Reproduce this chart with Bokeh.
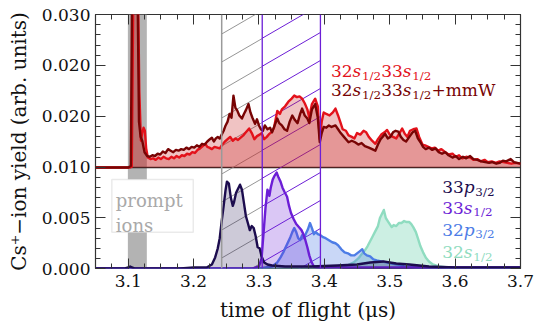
import numpy as np
from bokeh.plotting import figure
from bokeh.models import (Range1d, LinearAxis, FixedTicker, Span, BoxAnnotation, Label,
                          CustomLabelingPolicy)
from bokeh.embed import file_html
from bokeh.resources import INLINE

FONT = "DejaVu Serif"

# ---------------- data ----------------
X_RANGE = (3.05, 3.70)
X_TICKS = [3.1, 3.2, 3.3, 3.4, 3.5, 3.6, 3.7]
X_TICK_LABELS = ["3.1", "3.2", "3.3", "3.4", "3.5", "3.6", "3.7"]
Y_BOT_TICKS = [0.000, 0.005, 0.010]
Y_BOT_LABELS = ["0.000", "0.005", "0.010"]
Y_TOP_TICKS = [0.0166667, 0.0233333, 0.030]
Y_TOP_LABELS = ["0.020", "0.020", "0.030"]

# upper panel: 32s1/2 33s1/2 (red)
red_x = [3.050, 3.1030, 3.1055, 3.1085, 3.1140, 3.1170, 3.1195, 3.1215, 3.1235, 3.1255, 3.1275,
         3.1300, 3.1340, 3.1380, 3.1420, 3.1460, 3.1500, 3.1540, 3.1580, 3.1620, 3.1660, 3.1700,
         3.1740, 3.1780, 3.1820, 3.1860, 3.1900, 3.1940, 3.1980, 3.2020, 3.2060, 3.2100, 3.2140,
         3.2180, 3.2210, 3.2240, 3.2280, 3.2320, 3.2360, 3.2400, 3.2440, 3.2480, 3.2520, 3.2560,
         3.2600, 3.2640, 3.2680, 3.2720, 3.2760, 3.2800, 3.2850, 3.2890, 3.2930, 3.2970, 3.3010,
         3.3040, 3.3080, 3.3120, 3.3160, 3.3200, 3.3230, 3.3260, 3.3280, 3.3320, 3.3350, 3.3400,
         3.3450, 3.3500, 3.3540, 3.3580, 3.3620, 3.3660, 3.3700, 3.3740, 3.3770, 3.3810, 3.3860,
         3.3900, 3.3930, 3.3960, 3.3990, 3.4030, 3.4080, 3.4130, 3.4170, 3.4210, 3.4250, 3.4280,
         3.4330, 3.4370, 3.4420, 3.4460, 3.4500, 3.4550, 3.4600, 3.4640, 3.4680, 3.4730, 3.4780,
         3.4820, 3.4870, 3.4920, 3.4960, 3.5000, 3.5050, 3.5100, 3.5150, 3.5190, 3.5230, 3.5270,
         3.5310, 3.5360, 3.5410, 3.5450, 3.5500, 3.5540, 3.5590, 3.5640, 3.5690, 3.5740, 3.5790,
         3.5850, 3.5900, 3.5960, 3.6010, 3.6060, 3.6110, 3.6170, 3.6230, 3.6280, 3.6340, 3.6390,
         3.6450, 3.6500, 3.6560, 3.6620, 3.6680, 3.6740, 3.6800, 3.6860, 3.6920, 3.7000]
red_y = [0.0100, 0.0100, 0.0101, 0.0400, 0.0400, 0.0200, 0.0135, 0.0145, 0.0152, 0.0148, 0.0125,
         0.0113, 0.0111, 0.0112, 0.0110, 0.0113, 0.0111, 0.0114, 0.0112, 0.0111, 0.0114, 0.0112,
         0.0115, 0.0113, 0.0116, 0.0115, 0.0118, 0.0117, 0.0120, 0.0119, 0.0123, 0.0125, 0.0128,
         0.0131, 0.0127, 0.0126, 0.0124, 0.0127, 0.0126, 0.0125, 0.0130, 0.0134, 0.0137, 0.0140,
         0.0135, 0.0138, 0.0136, 0.0139, 0.0142, 0.0146, 0.0151, 0.0145, 0.0137, 0.0141, 0.0143,
         0.0145, 0.0137, 0.0140, 0.0144, 0.0147, 0.0152, 0.0165, 0.0174, 0.0170, 0.0176, 0.0180,
         0.0186, 0.0190, 0.0194, 0.0192, 0.0193, 0.0190, 0.0184, 0.0176, 0.0165, 0.0183, 0.0190,
         0.0180, 0.0137, 0.0160, 0.0172, 0.0170, 0.0168, 0.0172, 0.0177, 0.0168, 0.0158, 0.0150,
         0.0148, 0.0142, 0.0140, 0.0138, 0.0145, 0.0143, 0.0148, 0.0146, 0.0140, 0.0135, 0.0131,
         0.0137, 0.0143, 0.0146, 0.0149, 0.0143, 0.0140, 0.0138, 0.0145, 0.0151, 0.0144, 0.0140,
         0.0148, 0.0150, 0.0151, 0.0140, 0.0130, 0.0129, 0.0127, 0.0125, 0.0126, 0.0122, 0.0124,
         0.0120, 0.0117, 0.0118, 0.0114, 0.0116, 0.0112, 0.0114, 0.0113, 0.0110, 0.0111, 0.0108,
         0.0110, 0.0107, 0.0108, 0.0106, 0.0108, 0.0107, 0.0106, 0.0105, 0.0106, 0.0105]

# upper panel: 32s1/2 33s1/2 + mmW (dark red)
mmw_x = [3.050, 3.1000, 3.1040, 3.1065, 3.1135, 3.1165, 3.1190, 3.1215, 3.1250, 3.1290, 3.1330,
         3.1370, 3.1410, 3.1450, 3.1490, 3.1530, 3.1570, 3.1610, 3.1650, 3.1690, 3.1730, 3.1770,
         3.1810, 3.1850, 3.1890, 3.1930, 3.1970, 3.2010, 3.2050, 3.2090, 3.2130, 3.2170, 3.2210,
         3.2250, 3.2280, 3.2310, 3.2340, 3.2370, 3.2400, 3.2430, 3.2460, 3.2490, 3.2520, 3.2550,
         3.2580, 3.2610, 3.2640, 3.2665, 3.2700, 3.2740, 3.2770, 3.2800, 3.2840, 3.2870, 3.2900,
         3.2940, 3.2970, 3.3000, 3.3030, 3.3060, 3.3090, 3.3130, 3.3170, 3.3200, 3.3240, 3.3280,
         3.3310, 3.3350, 3.3390, 3.3430, 3.3470, 3.3510, 3.3550, 3.3590, 3.3630, 3.3660, 3.3700,
         3.3740, 3.3770, 3.3810, 3.3860, 3.3900, 3.3930, 3.3960, 3.3990, 3.4030, 3.4070, 3.4110,
         3.4170, 3.4210, 3.4250, 3.4300, 3.4370, 3.4420, 3.4470, 3.4520, 3.4570, 3.4620, 3.4680,
         3.4730, 3.4780, 3.4820, 3.4860, 3.4900, 3.4930, 3.4970, 3.5010, 3.5050, 3.5090, 3.5130,
         3.5170, 3.5210, 3.5250, 3.5300, 3.5350, 3.5390, 3.5430, 3.5470, 3.5510, 3.5550, 3.5600,
         3.5650, 3.5700, 3.5750, 3.5800, 3.5850, 3.5900, 3.5960, 3.6010, 3.6060, 3.6120, 3.6170,
         3.6230, 3.6280, 3.6340, 3.6400, 3.6460, 3.6520, 3.6570, 3.6630, 3.6680, 3.6730, 3.6780,
         3.6850, 3.6900, 3.6950, 3.7000]
mmw_y = [0.0100, 0.0100, 0.0102, 0.0400, 0.0400, 0.0160, 0.0140, 0.0135, 0.0120, 0.0115, 0.0114,
         0.0116, 0.0115, 0.0118, 0.0117, 0.0121, 0.0119, 0.0124, 0.0122, 0.0120, 0.0123, 0.0122,
         0.0124, 0.0123, 0.0126, 0.0124, 0.0127, 0.0126, 0.0129, 0.0127, 0.0131, 0.0130, 0.0134,
         0.0137, 0.0139, 0.0134, 0.0138, 0.0140, 0.0138, 0.0143, 0.0148, 0.0155, 0.0160, 0.0170,
         0.0165, 0.0194, 0.0178, 0.0175, 0.0168, 0.0164, 0.0170, 0.0175, 0.0183, 0.0172, 0.0165,
         0.0157, 0.0163, 0.0155, 0.0150, 0.0148, 0.0155, 0.0150, 0.0152, 0.0146, 0.0155, 0.0164,
         0.0158, 0.0155, 0.0150, 0.0148, 0.0160, 0.0168, 0.0162, 0.0158, 0.0170, 0.0177, 0.0168,
         0.0164, 0.0158, 0.0176, 0.0183, 0.0165, 0.0133, 0.0145, 0.0153, 0.0152, 0.0155, 0.0153,
         0.0155, 0.0150, 0.0145, 0.0140, 0.0133, 0.0135, 0.0133, 0.0130, 0.0132, 0.0128, 0.0126,
         0.0124, 0.0122, 0.0130, 0.0137, 0.0141, 0.0144, 0.0138, 0.0140, 0.0146, 0.0148, 0.0147,
         0.0140, 0.0136, 0.0134, 0.0140, 0.0146, 0.0148, 0.0138, 0.0133, 0.0127, 0.0124, 0.0126,
         0.0123, 0.0125, 0.0120, 0.0118, 0.0120, 0.0116, 0.0113, 0.0115, 0.0111, 0.0114, 0.0112,
         0.0115, 0.0111, 0.0110, 0.0108, 0.0107, 0.0106, 0.0107, 0.0105, 0.0106, 0.0109, 0.0108,
         0.0111, 0.0107, 0.0106, 0.0105]

# lower panel
p33_x = [3.050, 3.095, 3.100, 3.103, 3.106, 3.110, 3.180, 3.200, 3.220, 3.228, 3.233, 3.237,
         3.240, 3.243, 3.246, 3.249, 3.251, 3.254, 3.257, 3.260, 3.262, 3.265, 3.268, 3.271,
         3.274, 3.277, 3.280, 3.283, 3.286, 3.289, 3.292, 3.295, 3.298, 3.301, 3.304, 3.308,
         3.313, 3.320, 3.340, 3.380, 3.420, 3.450, 3.470, 3.490, 3.510, 3.530, 3.560, 3.600, 3.700]
p33_y = [0.0000, 0.0000, 0.0001, 0.0002, 0.0001, 0.0000, 0.0000, 0.0001, 0.0001, 0.0004, 0.0011,
         0.0020, 0.0030, 0.0047, 0.0062, 0.0078, 0.0086, 0.0084, 0.0070, 0.0062, 0.0066, 0.0075,
         0.0079, 0.0083, 0.0078, 0.0065, 0.0052, 0.0045, 0.0038, 0.0042, 0.0040, 0.0032, 0.0021,
         0.0020, 0.0012, 0.0006, 0.0004, 0.0003, 0.0002, 0.0002, 0.0003, 0.0004, 0.0006, 0.0007,
         0.0005, 0.0004, 0.0002, 0.0001, 0.0001]

s33_x = [3.050, 3.290, 3.300, 3.304, 3.307, 3.310, 3.313, 3.316, 3.318, 3.321, 3.324, 3.327,
         3.330, 3.333, 3.336, 3.339, 3.343, 3.346, 3.349, 3.353, 3.357, 3.361, 3.365, 3.368,
         3.371, 3.374, 3.377, 3.380, 3.384, 3.390, 3.700]
s33_y = [0.0000, 0.0000, 0.0002, 0.0010, 0.0035, 0.0060, 0.0078, 0.0072, 0.0080, 0.0088, 0.0092,
         0.0095, 0.0090, 0.0086, 0.0080, 0.0076, 0.0071, 0.0062, 0.0055, 0.0049, 0.0044, 0.0041,
         0.0038, 0.0034, 0.0028, 0.0021, 0.0013, 0.0007, 0.0002, 0.0001, 0.0001]

p32_x = [3.050, 3.300, 3.320, 3.328, 3.333, 3.338, 3.343, 3.348, 3.351, 3.354, 3.357, 3.360,
         3.363, 3.366, 3.369, 3.372, 3.375, 3.378, 3.381, 3.384, 3.387, 3.390, 3.394, 3.398,
         3.402, 3.407, 3.412, 3.417, 3.421, 3.426, 3.431, 3.436, 3.441, 3.446, 3.450, 3.454,
         3.458, 3.461, 3.465, 3.470, 3.475, 3.480, 3.487, 3.495, 3.503, 3.512, 3.522, 3.540, 3.700]
p32_y = [0.0000, 0.0000, 0.0002, 0.0006, 0.0011, 0.0017, 0.0024, 0.0031, 0.0036, 0.0040, 0.0036,
         0.0030, 0.0028, 0.0033, 0.0030, 0.0035, 0.0039, 0.0045, 0.0040, 0.0034, 0.0036, 0.0034,
         0.0033, 0.0031, 0.0030, 0.0028, 0.0026, 0.0025, 0.0023, 0.0019, 0.0016, 0.0015, 0.0013,
         0.0013, 0.0015, 0.0017, 0.0019, 0.0015, 0.0013, 0.0012, 0.0009, 0.0008, 0.0007, 0.0006,
         0.0005, 0.0004, 0.0002, 0.0001, 0.0001]

s32_x = [3.050, 3.410, 3.425, 3.435, 3.445, 3.452, 3.457, 3.462, 3.466, 3.470, 3.474, 3.478,
         3.482, 3.485, 3.488, 3.491, 3.494, 3.497, 3.500, 3.503, 3.506, 3.510, 3.514, 3.518,
         3.522, 3.526, 3.530, 3.533, 3.536, 3.540, 3.543, 3.547, 3.551, 3.555, 3.560, 3.566,
         3.575, 3.590, 3.700]
s32_y = [0.0000, 0.0000, 0.0001, 0.0003, 0.0006, 0.0010, 0.0014, 0.0018, 0.0022, 0.0027, 0.0032,
         0.0037, 0.0042, 0.0050, 0.0054, 0.0058, 0.0050, 0.0047, 0.0044, 0.0041, 0.0043, 0.0042,
         0.0045, 0.0045, 0.0047, 0.0046, 0.0046, 0.0044, 0.0041, 0.0036, 0.0030, 0.0022, 0.0016,
         0.0011, 0.0007, 0.0004, 0.0002, 0.0001, 0.0001]

# regions (time of flight)
PROMPT_BAND = (3.0995, 3.1285)
GATE_GRAY = (3.243, 3.305)
GATE_PURPLE = (3.305, 3.394)
PROMPT_BOX = dict(left=3.075, right=3.1995, top=0.00881, bottom=0.00359)

# ---------------- layout ----------------
W, H = 541, 330
ML, MR, MT, MB = 95, 21, 14, 62
FRAME_W = W - ML - MR
H_TOP, H_BOT = 153, 101
SPLIT = 0.010

MAIN_END = round(SPLIT * (H_TOP + H_BOT) / H_BOT, 7)
K = (MAIN_END - SPLIT) / (0.030 - SPLIT)
TOP_START = SPLIT - SPLIT / K


def top_to_main(v):
    return round(SPLIT + (v - SPLIT) * K, 7)


C_RED, C_DRED = "#e3121b", "#780404"
C_NAVY, C_PURP, C_BLUE, C_AQUA = "#1c0c4e", "#6c1ed6", "#4d7ce6", "#8fdcc0"

p = figure(width=W, height=H, x_range=Range1d(*X_RANGE), y_range=Range1d(0, MAIN_END),
           output_backend="svg", toolbar_location=None,
           min_border_left=ML, min_border_right=MR, min_border_top=MT, min_border_bottom=MB)
p.extra_y_ranges = {"top": Range1d(TOP_START, 0.030)}
p.grid.visible = False
p.outline_line_color = "#333333"
p.outline_line_width = 1.2
p.background_fill_color = "white"

# ticks
y_major = [round(v, 7) for v in Y_BOT_TICKS] + [top_to_main(v) for v in Y_TOP_TICKS]
y_major[-1] = MAIN_END
y_labels = Y_BOT_LABELS + Y_TOP_LABELS
y_minor = [round(i * 0.001, 7) for i in range(11)] + \
          [top_to_main(SPLIT + i * 0.02 / 15) for i in range(1, 15)]
y_ticker = FixedTicker(ticks=y_major, minor_ticks=y_minor)
x_minor = [round(X_RANGE[0] + 0.025 * i, 4) for i in range(27)]
x_ticker = FixedTicker(ticks=X_TICKS, minor_ticks=x_minor)


def style_axis(ax, show_labels):
    ax.axis_line_color = None
    ax.major_tick_in = 10
    ax.major_tick_out = 0
    ax.minor_tick_in = 5
    ax.minor_tick_out = 0
    ax.major_tick_line_color = "#333333"
    ax.minor_tick_line_color = "#333333"
    ax.major_tick_line_width = 1
    ax.minor_tick_line_width = 1
    ax.major_label_text_font = FONT
    if show_labels:
        ax.major_label_text_font_size = "17px"
        ax.major_label_text_color = "#111111"
        ax.axis_label_text_font = FONT
        ax.axis_label_text_font_size = "20px"
        ax.axis_label_text_font_style = "normal"
        ax.axis_label_text_color = "#111111"
    else:
        ax.major_label_text_font_size = "1px"
        ax.major_label_standoff = 0
        ax.major_label_policy = CustomLabelingPolicy(code="")


xa = p.xaxis[0]
xa.ticker = x_ticker
xa.major_label_overrides = {t: l for t, l in zip(X_TICKS, X_TICK_LABELS)}
xa.axis_label = "time of flight (μs)"
style_axis(xa, True)
xa.major_label_standoff = 6
xa.axis_label_standoff = 8

ya = p.yaxis[0]
ya.ticker = y_ticker
ya.major_label_overrides = {t: l for t, l in zip(y_major, y_labels)}
ya.axis_label = "Cs⁺−ion yield (arb. units)"
style_axis(ya, True)
ya.major_label_standoff = 5
ya.axis_label_standoff = 8

ra = LinearAxis(ticker=y_ticker)
style_axis(ra, False)
p.add_layout(ra, "right")
ta = LinearAxis(ticker=x_ticker)
style_axis(ta, False)
p.add_layout(ta, "above")

# prompt band (visible above and below the label box) and panel divider
p.add_layout(BoxAnnotation(left=PROMPT_BAND[0], right=PROMPT_BAND[1], bottom=PROMPT_BOX["top"],
                           fill_color="#b3b3b3", fill_alpha=1.0, line_color=None, level="underlay"))
p.add_layout(BoxAnnotation(left=PROMPT_BAND[0], right=PROMPT_BAND[1], top=PROMPT_BOX["bottom"],
                           fill_color="#b3b3b3", fill_alpha=1.0, line_color=None, level="underlay"))
p.add_layout(Span(location=SPLIT, dimension="width", line_color="#222222", line_width=1.5,
                  level="underlay"))

# hatched gates
xpp = (X_RANGE[1] - X_RANGE[0]) / FRAME_W
ypp = MAIN_END / (H_TOP + H_BOT)


def hatch(x0, x1, color, alpha, phase):
    rise = 0.58 * (x1 - x0) / xpp * ypp
    step = 28 * ypp
    y0s = np.arange(-rise + phase * ypp, MAIN_END + step, step)
    n = len(y0s)
    p.segment(x0=[x0] * n, y0=y0s, x1=[x1] * n, y1=y0s + rise, line_color=color,
              line_alpha=alpha, line_width=1)


hatch(*GATE_GRAY, "#8a8a8a", 0.9, 6)
hatch(*GATE_PURPLE, C_PURP, 1.0, 12)
p.add_layout(Span(location=GATE_GRAY[0], dimension="height", line_color="#9a9a9a", line_width=1.5))
for xb in GATE_PURPLE:
    p.add_layout(Span(location=xb, dimension="height", line_color=C_PURP, line_width=1.3))

# upper panel
for xs, ys in [(red_x, red_y), (mmw_x, mmw_y)]:
    p.varea(x=xs, y1=[SPLIT] * len(xs), y2=ys, fill_color="#c82828", fill_alpha=0.28,
            y_range_name="top")
p.line(red_x, red_y, line_color=C_RED, line_width=2.4, line_join="round", y_range_name="top")
p.line(mmw_x, mmw_y, line_color=C_DRED, line_width=2.4, line_join="round", y_range_name="top")

# lower panel
for xs, ys, c, fa in [(s32_x, s32_y, C_AQUA, 0.45), (p32_x, p32_y, C_BLUE, 0.3),
                      (s33_x, s33_y, C_PURP, 0.25), (p33_x, p33_y, C_NAVY, 0.22)]:
    p.varea(x=xs, y1=[0] * len(xs), y2=ys, fill_color=c, fill_alpha=fa)
    p.line(xs, ys, line_color=c, line_width=2.4, line_join="round")

# prompt-ions box
p.add_layout(BoxAnnotation(**PROMPT_BOX, fill_color="white", fill_alpha=1.0, line_color="#b9b9b9",
                           line_width=1.5))
for txt, yb in [("prompt", 0.00673), ("ions", 0.00426)]:
    p.add_layout(Label(x=PROMPT_BOX["left"], y=yb, x_offset=4, text=txt, text_font=FONT,
                       text_font_size="18px", text_color="#a9a9a9", text_baseline="alphabetic",
                       text_align="left"))

# rich-text legends
ADV = {"0": 0.636, "1": 0.636, "2": 0.636, "3": 0.636, "/": 0.337, "+": 0.838,
       "m": 0.948, "W": 1.028, "s": 0.53, "p": 0.645}


def rich(x, y, parts, color, size=17, yr="default"):
    dx = 0.0
    for txt, kind in parts:
        fs = size * 0.7 if kind == "sub" else size
        p.add_layout(Label(x=x, y=y, x_offset=dx, y_offset=(-0.27 * size if kind == "sub" else 0),
                           text=txt, text_font=FONT, text_font_size=f"{fs:.1f}px",
                           text_font_style=("italic" if kind == "it" else "normal"),
                           text_color=color, text_baseline="alphabetic", text_align="left",
                           y_range_name=yr))
        dx += sum(ADV.get(ch, 0.6) for ch in txt) * fs + (0.5 if kind == "it" else 0)


S = [("32", "n"), ("s", "it"), ("1/2", "sub"), ("33", "n"), ("s", "it"), ("1/2", "sub")]
rich(3.41, 0.02259, S, C_RED, yr="top")
rich(3.41, 0.02007, S + [("+mmW", "n")], C_DRED, yr="top")

LEG = [("33", "p", "3/2", C_NAVY, 0.00805), ("33", "s", "1/2", C_PURP, 0.00601),
       ("32", "p", "3/2", C_BLUE, 0.00383), ("32", "s", "1/2", C_AQUA, 0.00161)]
for n, l, j, c, yb in LEG:
    rich(3.5803, yb, [(n, "n"), (l, "it"), (j, "sub")], c)

open("out.html", "w").write(file_html(p, INLINE))
